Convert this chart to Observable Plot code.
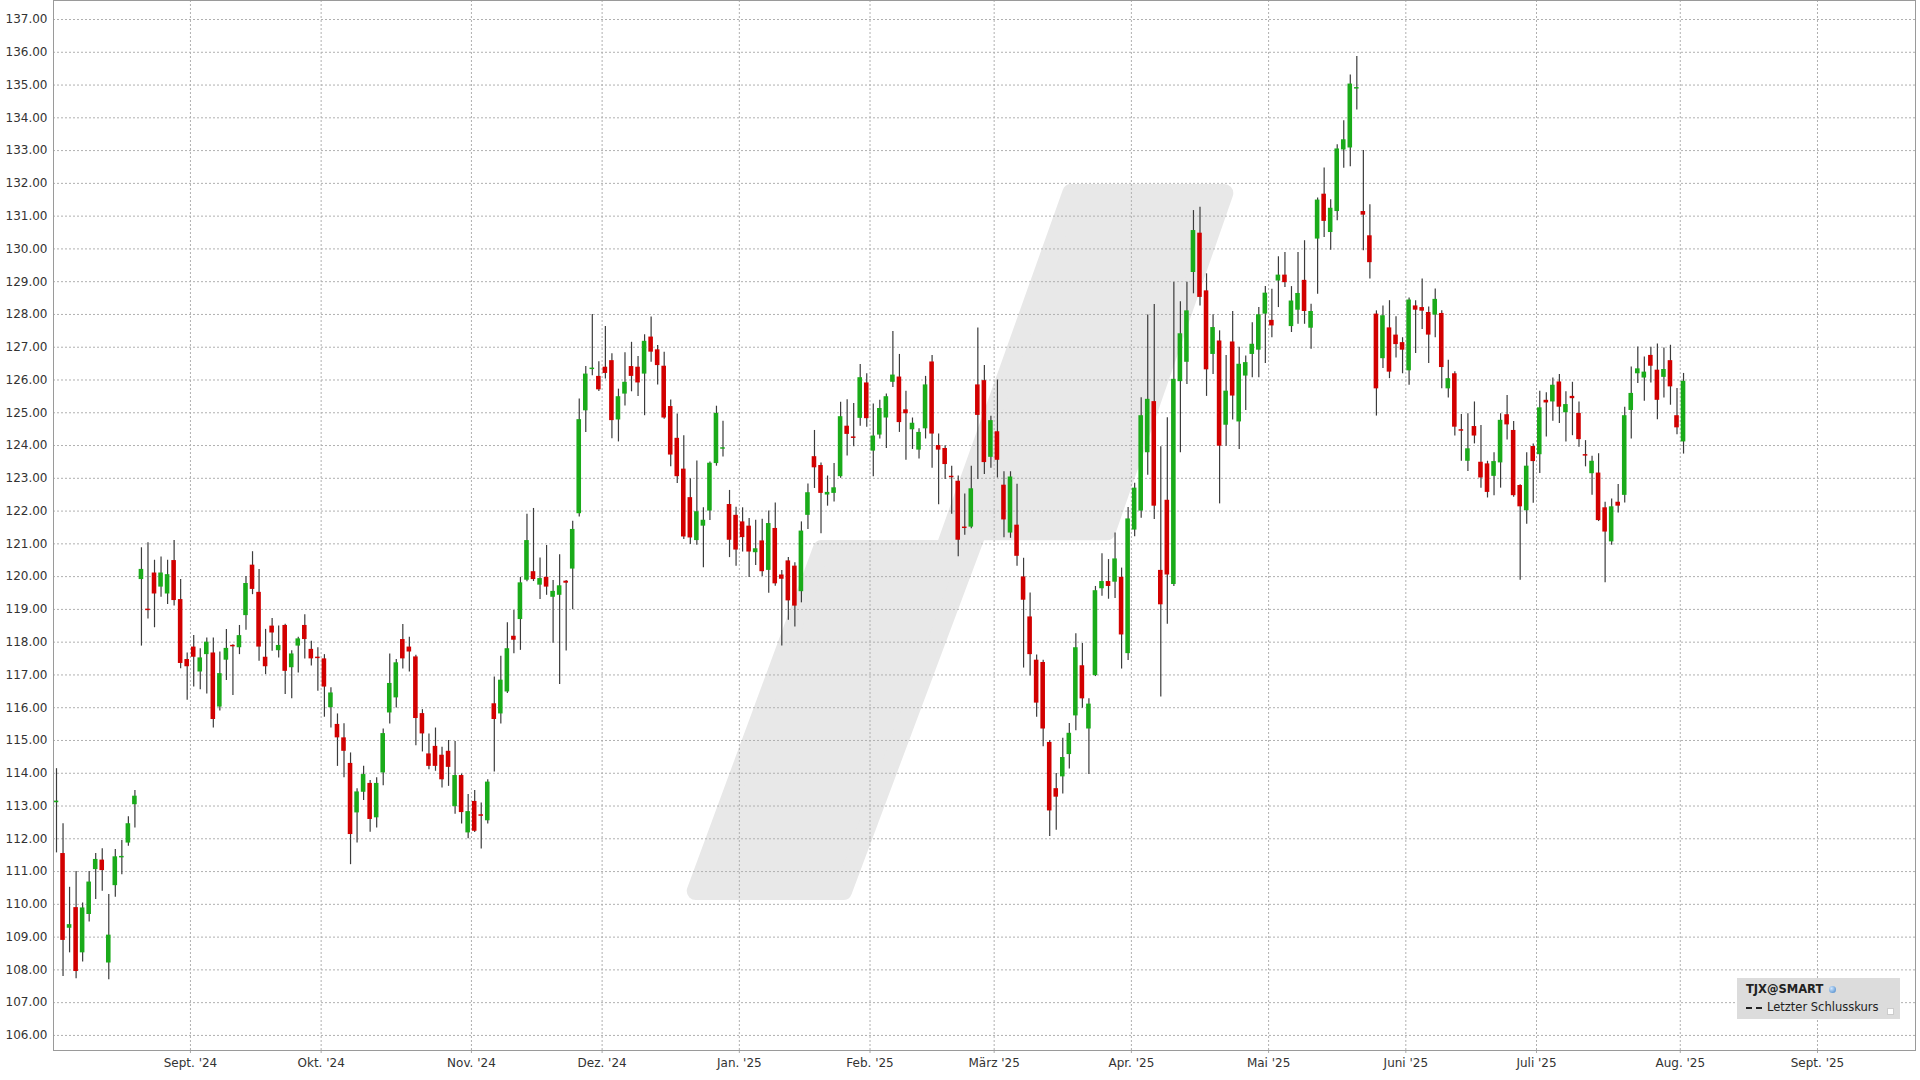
<!DOCTYPE html>
<html><head><meta charset="utf-8">
<script src="https://cdn.jsdelivr.net/npm/d3@7"></script>
<script src="https://cdn.jsdelivr.net/npm/@observablehq/plot@0.6"></script>
<style>
html,body{margin:0;padding:0;background:#fff;}
#wrap{position:relative;width:1920px;height:1080px;font-family:"DejaVu Sans",Verdana,sans-serif;}
#legend{position:absolute;left:1737px;top:978px;width:163px;height:41px;background:#dcdcdc;color:#222;font-size:11.5px;}
#legend .t1{position:absolute;left:9px;top:4px;font-weight:bold;}
#legend .globe{position:absolute;left:92px;top:8px;width:7px;height:7px;border-radius:50%;background:radial-gradient(circle at 35% 35%,#cfe6ff,#3d7fc4);}
#legend .dash{position:absolute;left:9px;top:29px;width:16px;height:0;border-top:2px dashed #222;}
#legend .t2{position:absolute;left:30px;top:22px;}
#legend .box{position:absolute;left:150px;top:30px;width:5px;height:5px;background:#fff;border:1px solid #ccc;}
</style></head>
<body><div id="wrap"></div>
<script>
// OHLC values, one per trading day (02.08.2024 – 01.08.2025)
const opens = [113.1,111.55,109.27,109.9,108.52,109.69,111.06,111.35,108.21,110.57,111.42,111.87,113.04,119.91,119.0,120.11,119.68,119.47,120.49,119.3,117.47,117.85,117.09,117.62,117.67,116.02,117.45,117.9,117.83,118.81,120.35,119.52,117.54,118.49,117.74,118.51,117.22,117.88,118.51,117.78,117.54,117.49,116.0,115.49,115.08,114.3,112.79,113.42,113.69,112.64,114.01,115.84,116.3,118.08,117.85,117.55,115.82,114.59,114.82,114.55,114.67,112.98,113.93,112.18,113.14,112.73,112.55,116.12,115.81,116.48,118.18,118.69,119.89,120.15,119.74,119.98,119.37,119.43,119.86,120.23,121.92,125.06,126.32,126.11,126.39,126.59,124.78,125.57,126.41,126.39,126.18,127.31,126.92,126.42,125.19,124.22,123.28,122.41,121.1,121.54,122.0,123.45,123.89,122.2,121.87,121.67,121.54,120.73,121.09,120.19,121.47,120.05,120.48,120.32,119.54,121.87,123.66,123.39,122.49,122.54,123.05,124.59,124.26,124.83,125.91,123.83,124.32,124.84,125.93,126.09,125.09,124.48,123.86,124.51,126.55,124.0,123.91,123.06,122.91,121.51,121.51,125.85,125.98,123.64,124.42,122.79,121.33,121.57,119.99,118.77,117.45,117.38,114.94,113.53,113.89,114.57,115.75,117.28,115.35,116.98,119.63,119.85,119.83,119.98,117.65,121.42,122.0,123.78,125.34,120.19,122.33,119.76,125.95,126.54,129.28,130.48,128.72,126.78,127.19,124.62,127.16,124.72,126.12,126.78,126.91,128.01,127.82,129.02,129.2,127.63,128.13,129.04,127.58,130.3,131.67,130.5,131.14,133.02,133.08,134.88,131.14,130.4,128.01,126.65,127.59,127.37,127.14,126.28,128.26,128.21,128.06,127.98,128.03,125.73,126.19,124.48,123.52,124.58,123.49,123.44,123.06,123.47,124.94,124.46,122.78,122.01,123.97,123.72,125.38,125.33,125.94,125.0,125.5,124.98,123.72,123.14,123.16,122.1,121.06,122.27,122.48,125.07,126.19,126.06,126.75,126.3,126.08,126.59,124.91,124.11];
const highs = [114.14,112.46,110.52,111.0,110.04,111.0,111.55,111.7,110.3,111.67,111.95,112.67,113.47,120.88,121.03,120.5,120.6,120.5,121.1,119.91,117.67,118.2,117.8,118.13,118.13,117.7,118.39,117.92,118.51,120.0,120.76,120.22,118.39,118.72,118.49,118.55,117.74,118.15,118.84,118.03,117.83,117.62,116.61,115.81,115.51,114.62,113.53,114.21,113.78,113.86,115.35,117.64,117.47,118.54,118.15,117.6,115.94,115.2,115.38,114.79,115.0,114.97,113.98,113.35,113.47,113.09,113.8,116.94,117.57,118.59,118.97,119.98,121.9,122.08,120.57,120.95,119.88,120.67,119.88,121.69,125.42,126.41,128.0,126.56,127.63,126.8,125.72,126.83,127.15,126.72,127.38,127.92,127.05,126.85,125.39,124.96,124.3,122.99,123.53,122.1,123.5,125.2,124.74,122.63,122.12,122.1,121.77,121.72,121.75,122.0,122.25,120.19,120.58,120.42,121.67,122.83,124.46,123.47,123.07,123.45,125.32,125.4,125.28,126.47,126.19,125.27,125.38,125.57,127.48,126.78,125.66,124.84,124.51,126.11,126.75,124.35,123.99,123.37,123.07,122.52,123.37,127.59,126.44,124.89,126.0,123.2,123.2,122.82,120.56,119.5,117.61,117.45,115.0,113.99,115.07,115.52,118.26,117.96,116.27,119.7,120.7,120.52,121.33,120.26,122.11,122.85,125.46,127.98,128.3,123.96,124.85,128.98,128.39,128.98,131.17,131.27,129.24,127.99,127.5,126.75,128.09,127.0,126.73,127.75,128.21,128.85,128.77,129.76,129.89,128.85,129.89,130.25,128.31,131.55,132.47,131.5,133.18,133.91,135.31,135.87,133.0,131.35,128.11,128.26,128.42,127.93,127.29,128.5,128.42,129.08,128.23,128.78,128.11,126.6,126.25,124.95,124.97,125.33,124.61,123.52,123.78,124.97,125.53,124.73,122.8,123.78,124.05,125.66,125.61,126.06,126.17,125.64,125.93,125.33,124.15,123.67,123.75,122.27,122.37,122.81,125.17,126.4,127.01,126.7,127.0,127.1,126.98,127.06,125.74,126.2];
const lows = [111.57,107.8,108.52,107.73,108.24,109.46,110.15,110.4,107.7,110.22,110.9,111.77,112.33,117.88,118.71,118.44,119.37,119.15,119.1,117.19,116.23,116.63,116.55,116.42,115.38,115.9,116.83,116.37,117.62,118.36,119.45,117.42,117.01,117.72,117.52,116.4,116.27,117.06,117.49,117.27,116.5,115.71,115.38,114.21,113.86,111.21,111.87,113.17,112.2,112.33,113.62,115.5,115.99,117.18,117.09,114.84,114.65,114.11,114.06,113.55,113.6,112.75,112.45,112.0,112.19,111.69,112.45,114.04,115.5,116.43,117.65,117.75,119.84,119.85,119.3,119.43,117.97,116.71,117.73,118.99,121.82,124.4,126.13,125.65,126.03,124.21,124.11,125.21,125.64,125.5,124.91,126.54,125.85,124.8,123.35,122.84,121.13,120.98,120.96,120.27,121.71,123.37,123.65,120.58,120.32,120.75,119.97,120.34,120.0,119.49,119.71,117.88,118.67,118.46,119.2,121.44,122.69,121.31,122.15,122.28,123.0,123.68,123.96,124.59,124.56,123.05,124.2,123.91,125.77,124.4,123.55,123.88,123.59,124.2,123.31,122.19,122.96,121.9,120.61,121.26,121.46,122.96,123.12,123.31,123.01,121.19,121.17,120.32,117.21,116.97,115.71,114.81,112.07,112.26,113.37,114.13,115.3,115.98,113.96,116.95,119.4,119.31,119.33,117.18,117.44,121.22,121.78,123.09,121.74,116.33,118.55,119.7,123.78,125.86,128.63,128.26,125.5,126.17,122.22,123.98,124.78,123.88,125.07,126.07,126.07,126.5,127.29,128.21,128.82,127.45,127.7,127.7,126.94,128.62,130.35,129.96,130.86,132.46,132.51,134.24,129.94,129.08,124.9,126.35,126.04,126.67,126.19,125.84,126.81,127.54,126.5,127.29,125.73,125.45,124.29,123.52,123.21,124.05,122.7,122.4,122.47,122.7,124.17,122.42,119.89,121.6,122.24,123.15,124.26,124.74,124.67,124.11,124.3,123.95,123.35,122.48,121.68,119.81,120.96,121.94,122.25,124.2,125.89,125.35,125.91,124.79,125.45,125.23,124.33,123.74];
const closes = [113.15,108.9,109.38,107.95,109.89,110.68,111.37,111.03,109.06,111.45,111.46,112.46,113.3,120.22,118.97,119.47,120.11,120.06,119.27,117.35,117.25,117.54,117.52,118.0,115.64,117.04,117.81,117.86,118.2,119.79,119.61,117.85,117.25,118.28,117.9,117.11,117.64,118.1,118.08,117.49,117.5,116.63,116.45,115.08,114.67,112.13,113.43,113.96,112.59,113.69,115.21,116.74,117.37,117.49,117.7,115.67,115.2,114.21,114.21,113.8,114.18,113.93,112.8,112.83,112.23,112.69,113.73,115.64,116.84,117.8,118.06,119.81,121.1,119.91,119.94,119.68,119.55,119.72,119.8,121.44,124.79,126.18,126.36,125.7,126.2,124.76,125.49,125.93,126.11,125.91,127.18,126.85,126.44,124.84,123.71,123.05,121.21,121.18,121.98,121.72,123.46,124.98,123.93,121.11,120.81,121.19,120.75,120.85,120.15,121.62,119.78,119.92,119.26,119.1,121.39,122.56,123.32,122.54,122.57,122.71,124.88,124.34,124.22,126.07,124.82,124.29,125.13,125.49,126.15,124.7,124.97,124.68,124.4,125.85,124.35,123.86,123.42,123.02,121.11,121.47,122.68,124.92,123.48,124.76,123.55,121.73,123.04,120.62,119.28,117.62,116.14,115.35,112.85,113.27,114.48,115.22,117.83,116.27,116.11,119.57,119.85,119.7,120.54,118.22,121.76,122.7,124.91,125.41,122.15,119.14,120.05,126.02,127.41,128.11,130.56,128.52,126.31,127.6,123.98,125.66,125.51,126.48,126.53,127.09,127.99,128.65,127.65,129.2,128.97,128.41,128.64,128.09,128.09,131.49,130.84,131.24,133.05,133.33,135.03,134.92,131.03,129.58,125.73,127.96,126.24,127.08,126.91,128.44,128.13,128.1,127.37,128.46,126.38,126.04,124.56,124.44,123.9,124.29,123.01,122.57,123.51,124.77,124.63,122.47,122.13,123.37,123.51,125.15,125.3,125.84,125.17,125.25,125.43,124.18,123.68,123.52,121.71,121.36,122.13,122.15,124.91,125.59,126.34,126.24,126.42,125.38,126.32,125.79,124.54,125.96];

// axis ticks
const yTicks = [106,107,108,109,110,111,112,113,114,115,116,117,118,119,120,121,122,123,124,125,126,127,128,129,130,131,132,133,134,135,136,137];
const monthTickIdx = [20.5,40.5,63.5,83.5,104.5,124.5,143.5,164.5,185.5,206.5,226.5,248.5,269.5];
const monthLabels = ["Sept. '24","Okt. '24","Nov. '24","Dez. '24","Jan. '25","Feb. '25","März '25","Apr. '25","Mai '25","Juni '25","Juli '25","Aug. '25","Sept. '25"];

// background watermark outline (trading-day index, price)
const watermarkIdx = [155.37,178.8,160.8,141.06,120.46,97.9,117.2,135.97];
const watermarkPrice = [131.69,131.69,121.37,121.37,110.39,110.39,120.83,120.83];

const candles = opens.map((o, i) => ({i, open: o, high: highs[i], low: lows[i], close: closes[i]}));
const labelMap = new Map(monthTickIdx.map((d, k) => [d, monthLabels[k]]));
const GREEN = "#1aab1a", RED = "#d20000";
const minBody = 0.045;
const bodyLo = d => { const lo = Math.min(d.open, d.close), hi = Math.max(d.open, d.close); return hi - lo < minBody ? (lo + hi) / 2 - minBody / 2 : lo; };
const bodyHi = d => { const lo = Math.min(d.open, d.close), hi = Math.max(d.open, d.close); return hi - lo < minBody ? (lo + hi) / 2 + minBody / 2 : hi; };
const half = 0.35;

const chart = Plot.plot({
  width: 1920, height: 1080,
  marginLeft: 53, marginRight: 5, marginTop: 0, marginBottom: 30,
  style: {fontFamily: '"DejaVu Sans", Verdana, sans-serif', fontSize: "12px", color: "#333", background: "#fff", overflow: "visible"},
  x: {type: "linear", domain: [-0.459, 284.5], axis: null},
  y: {domain: [105.54, 137.58], axis: null},
  marks: [
    Plot.gridY(yTicks, {stroke: "#b0b0b0", strokeOpacity: 1, strokeDasharray: "2,2"}),
    Plot.gridX(monthTickIdx, {stroke: "#b0b0b0", strokeOpacity: 1, strokeDasharray: "2,2"}),
    Plot.ruleX(candles, {x: "i", y1: "low", y2: "high", stroke: "#3c3c3c", strokeWidth: 1.2}),
    Plot.rect(candles.filter(d => d.close >= d.open), {x1: d => d.i - half, x2: d => d.i + half, y1: bodyLo, y2: bodyHi, fill: GREEN}),
    Plot.rect(candles.filter(d => d.close < d.open), {x1: d => d.i - half, x2: d => d.i + half, y1: bodyLo, y2: bodyHi, fill: RED}),
    Plot.axisY(yTicks, {anchor: "left", label: null, tickSize: 0, tickPadding: 6, tickFormat: d => d.toFixed(2), fill: "#333"}),
    Plot.axisX(monthTickIdx, {anchor: "bottom", label: null, tickSize: 3, tickPadding: 5, tickFormat: d => labelMap.get(d), stroke: "#aaa", fill: "#333"}),
    Plot.frame({stroke: "#9a9a9a"})
  ]
});

// watermark drawn beneath everything, positioned through the chart's scales
const sx = chart.scale("x"), sy = chart.scale("y");
const pts = watermarkIdx.map((v, k) => [sx.apply(v), sy.apply(watermarkPrice[k])]);
d3.select(chart).insert("path", ":first-child")
  .attr("d", "M" + pts.map(p => p.join(",")).join("L") + "Z")
  .attr("fill", "#e8e8e8").attr("stroke", "#e8e8e8")
  .attr("stroke-width", 18).attr("stroke-linejoin", "round");

const wrap = document.getElementById("wrap");
wrap.appendChild(chart);
const lg = document.createElement("div");
lg.id = "legend";
lg.innerHTML = '<span class="t1">TJX@SMART</span><span class="globe"></span><span class="dash"></span><span class="t2">Letzter Schlusskurs</span><span class="box"></span>';
wrap.appendChild(lg);
</script>
</body></html>
